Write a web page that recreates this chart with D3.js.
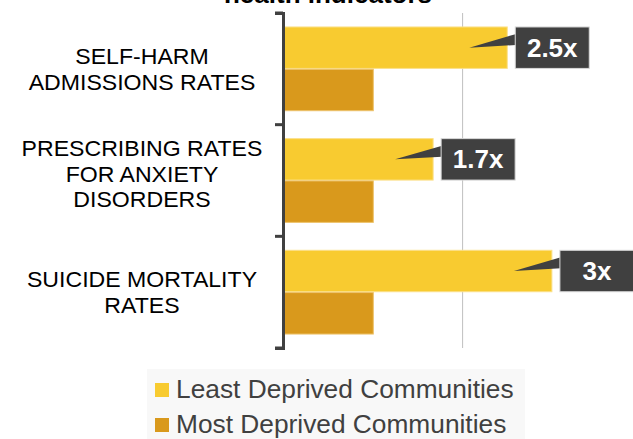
<!DOCTYPE html>
<html><head><meta charset="utf-8">
<script src="https://cdn.jsdelivr.net/npm/d3@7"></script>
<style>body{margin:0;background:#fff}svg{display:block}</style>
</head><body>
<svg id="c" width="633" height="439"></svg>
<script>
const categories = [["SELF-HARM","ADMISSIONS RATES"],["PRESCRIBING RATES","FOR ANXIETY","DISORDERS"],["SUICIDE MORTALITY","RATES"]];
const catKeys = ["selfharm","prescribing","suicide"];
const seriesNames = ["Least Deprived Communities","Most Deprived Communities"];
const leastValues = [2.5, 1.67, 3];
const mostValues = [1, 1, 1];
const calloutLabels = ["2.5x","1.7x","3x"];
const colors = ["#F8CB30","#D9991C"];
const titleText = "health indicators";
const FONT = "'Liberation Sans', Arial, sans-serif";

const svg = d3.select("#c");
const x = d3.scaleLinear().domain([0,4]).range([284, 284 + 4*89.3]);
const y = d3.scaleBand().domain(catKeys).range([13, 348]).padding(0);
const bw = y.bandwidth();
const ys = d3.scaleBand().domain(seriesNames).range([bw*0.125, bw*0.875]).paddingInner(0.02);

// title (partially cut off at the top, as in the reference)
svg.append("text").attr("x", 328).attr("y", 3).attr("text-anchor","middle")
  .attr("font-family", FONT).attr("font-weight","bold").attr("font-size", 26).attr("fill","#000")
  .text(titleText);

// gridlines
svg.append("g").selectAll("line").data(x.ticks(2).filter(d=>d>0)).join("line")
  .attr("x1", d=>x(d)).attr("x2", d=>x(d)).attr("y1", 13).attr("y2", 348)
  .attr("stroke", "#bfbfbf").attr("stroke-width", 1);

// bars
const data = catKeys.map((k,i)=>({k, vals:[leastValues[i], mostValues[i]]}));
const g = svg.append("g");
data.forEach((d,i)=>{
  d.vals.forEach((v,j)=>{
    g.append("rect").attr("x", x(0)).attr("y", y(d.k)+ys(seriesNames[j]))
      .attr("width", x(v)-x(0)).attr("height", ys.bandwidth())
      .attr("fill", colors[j]).attr("stroke", j===0?"#FBE08A":"#EDC26A").attr("stroke-width",1);
  });
});

// axis
const axis = d3.axisLeft(y).tickSize(8).tickSizeOuter(8).tickFormat("");
const ag = svg.append("g").attr("transform", `translate(${x(0)-1},0)`).call(axis);
ag.select(".domain").attr("stroke","#404040").attr("stroke-width",3);
ag.selectAll(".tick line").remove();
const bounds = [13].concat(catKeys.map(k=>y(k)+bw));
ag.selectAll(".bt").data(bounds).join("line").attr("class","bt")
  .attr("x1",-8).attr("x2",0).attr("y1",d=>d).attr("y2",d=>d)
  .attr("stroke","#404040").attr("stroke-width",3);

// category labels
categories.forEach((lines,i)=>{
  const cy = y(catKeys[i]) + bw/2;
  const lh = 26;
  const shift = lines.length > 2 ? -7 : 0;
  const t = svg.append("text").attr("font-family",FONT).attr("font-size",22).attr("fill","#000")
    .attr("text-anchor","middle")
    .attr("transform", `translate(142,${cy + shift}) scale(1.05,1)`);
  lines.forEach((ln,k)=>{
    t.append("tspan").attr("x",0).attr("y", (k-(lines.length-1)/2)*lh + 8).text(ln);
  });
});

// callouts
data.forEach((d,i)=>{
  const by = y(d.k)+ys(seriesNames[0]);
  const bh = ys.bandwidth();
  const xe = x(d.vals[0]);
  const bx = xe + 8, bwid = 74;
  const cy = by + bh/2;
  const cg = svg.append("g");
  cg.append("path").attr("d", `M${xe-38},${cy} L${bx+1},${by+7} L${bx+1},${by+18} Z`).attr("fill","#404040");
  cg.append("rect").attr("x",bx).attr("y",by).attr("width",bwid).attr("height",bh)
    .attr("fill","#404040").attr("stroke","#d9d9d9").attr("stroke-width",1);
  cg.append("text").attr("x",bx+bwid/2).attr("y",cy+9).attr("text-anchor","middle")
    .attr("font-family",FONT).attr("font-weight","bold").attr("font-size",26).attr("fill","#fff")
    .text(calloutLabels[i]);
});

// legend
const lg = svg.append("g");
lg.append("rect").attr("x",147).attr("y",369).attr("width",378).attr("height",75).attr("fill","#f8f8f8");
seriesNames.forEach((s,j)=>{
  const ly = 398 + j*35;
  lg.append("rect").attr("x",155).attr("y",ly-15).attr("width",14).attr("height",14).attr("fill",colors[j]);
  lg.append("text").attr("x",176).attr("y",ly).attr("font-family",FONT).attr("font-size",26.3)
    .attr("fill","#404040").text(s);
});
</script>
</body></html>
